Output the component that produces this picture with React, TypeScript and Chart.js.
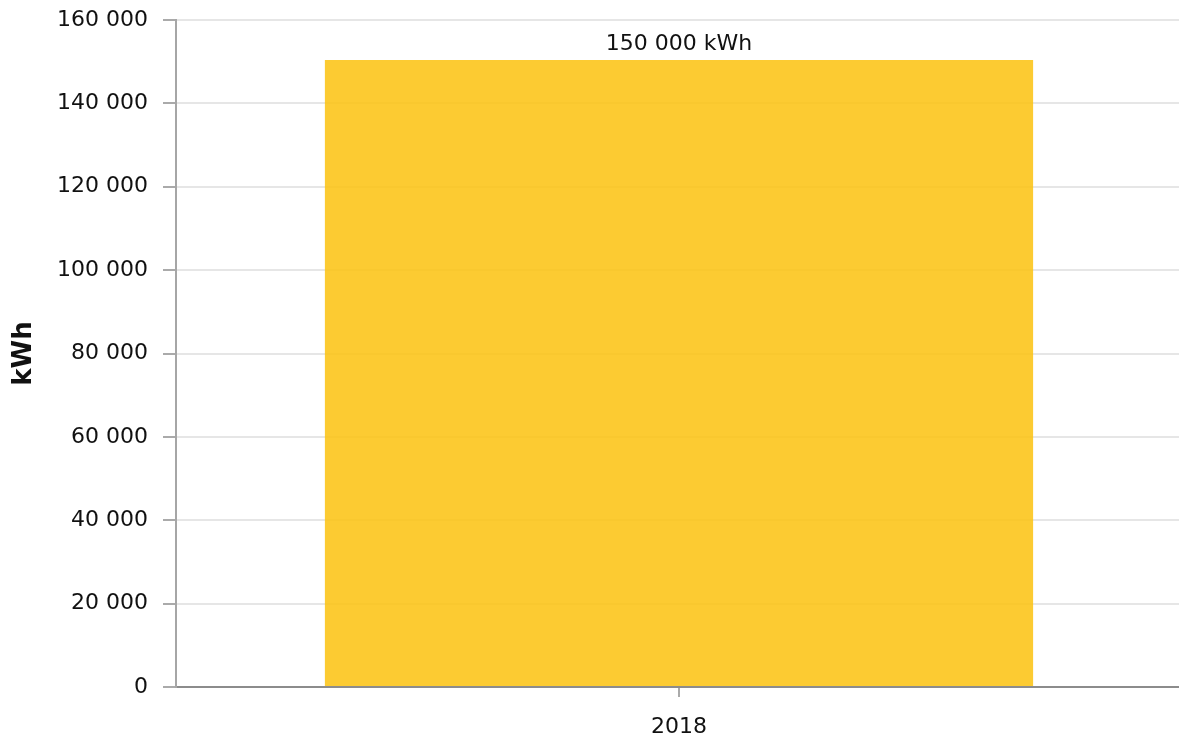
import React, { useEffect, useRef } from "react";
import { Chart, registerables } from "chart.js";

Chart.register(...registerables);

const categories: string[] = ["2018"];
const energyValues: number[] = [150400];
const unitLabel = "kWh";
const yMin = 0;
const yMax = 160000;
const yStep = 20000;

const FONT = "'DejaVu Sans', Verdana, sans-serif";

function fmt(n: number): string {
  return String(Math.round(n)).replace(/\B(?=(\d{3})+(?!\d))/g, " ");
}

const barLabelPlugin = {
  id: "barLabel",
  afterDatasetsDraw(chart: any) {
    const ctx = chart.ctx;
    const meta = chart.getDatasetMeta(0);
    ctx.save();
    ctx.font = `22px ${FONT}`;
    ctx.fillStyle = "#111";
    ctx.textAlign = "center";
    ctx.textBaseline = "alphabetic";
    meta.data.forEach((el: any, i: number) => {
      const v = chart.data.datasets[0].data[i] as number;
      const rounded = Math.round(v / 1000) * 1000;
      ctx.fillText(`${fmt(rounded)} ${unitLabel}`, el.x, el.y - 10);
    });
    ctx.restore();
  },
};

export default function App() {
  const ref = useRef<HTMLCanvasElement>(null);
  useEffect(() => {
    if (!ref.current) return;
    const chart = new Chart(ref.current, {
      type: "bar",
      data: {
        labels: categories,
        datasets: [
          {
            data: energyValues,
            backgroundColor: "rgba(252,196,22,0.88)",
            borderWidth: 0,
            categoryPercentage: 1,
            barPercentage: 0.704,
          },
        ],
      },
      plugins: [barLabelPlugin],
      options: {
        animation: false,
        responsive: true,
        maintainAspectRatio: false,
        layout: { padding: { top: 20, right: 0, left: 0, bottom: 0 } },
        plugins: { legend: { display: false }, tooltip: { enabled: false } },
        scales: {
          x: {
            grid: {
              display: true,
              offset: false,
              drawOnChartArea: false,
              drawTicks: true,
              tickLength: 10,
              tickColor: "#aaaaaa",
              lineWidth: 2,
            },
            border: { display: true, color: "#8c8c8c", width: 2 },
            ticks: {
              color: "#111",
              font: { family: FONT, size: 22 },
              padding: 17,
            },
            afterFit(scale: any) {
              scale.height = 53;
            },
          },
          y: {
            min: yMin,
            max: yMax,
            ticks: {
              stepSize: yStep,
              color: "#111",
              font: { family: FONT, size: 22 },
              padding: 15,
              callback: (v: any) => fmt(Number(v)),
            },
            grid: {
              color: "#e6e6e6",
              lineWidth: 2,
              tickLength: 13,
              tickColor: "#aaaaaa",
            },
            border: { display: true, color: "#a6a6a6", width: 2 },
            title: {
              display: true,
              text: unitLabel,
              color: "#111",
              font: { family: FONT, size: 26, weight: "bold" },
              padding: { top: 9, bottom: 0 },
            },
            afterFit(scale: any) {
              scale.width = 176;
              scale.paddingTop = 0;
              scale.paddingBottom = 0;
            },
          },
        },
      },
    });
    return () => chart.destroy();
  }, []);
  return (
    <div style={{ position: "absolute", left: 0, top: 0, width: 1179, height: 740, overflow: "hidden", background: "#fff" }}>
      <div style={{ position: "absolute", left: 0, top: 0, width: 1182, height: 740 }}>
        <canvas ref={ref} />
      </div>
    </div>
  );
}
